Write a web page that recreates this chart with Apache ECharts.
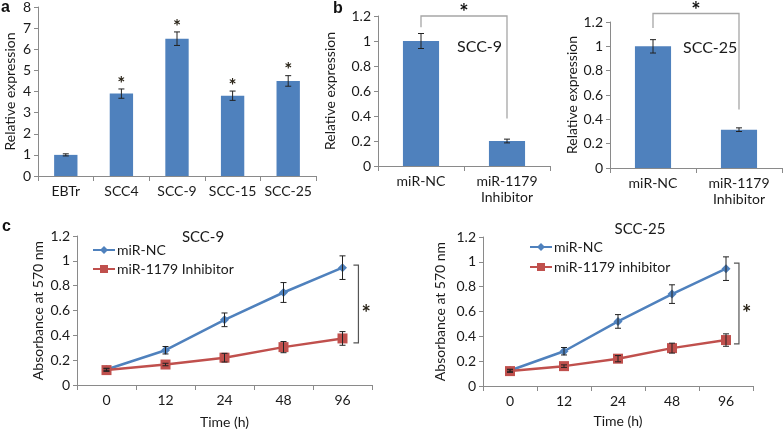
<!DOCTYPE html>
<html><head><meta charset="utf-8">
<script src="https://cdn.jsdelivr.net/npm/echarts@6/dist/echarts.min.js"></script>
<style>html,body{margin:0;padding:0;background:#fff}#c{width:784px;height:430px}</style>
</head><body><div id="c"></div>
<script>
// ---- Panel a ----
const catsA = ['EBTr', 'SCC4', 'SCC-9', 'SCC-15', 'SCC-25'];
const valsA = [1.0, 3.9, 6.5, 3.8, 4.5];
const errA = [0.05, 0.22, 0.32, 0.22, 0.25];
const sigA = ['', '*', '*', '*', '*'];
const ticksA = [0, 8, 1];
// ---- Panel b ----
const catsB = ['miR-NC', 'miR-1179\nInhibitor'];
const valsB1 = [1.0, 0.2];
const errB1 = [0.06, 0.015];
const valsB2 = [1.0, 0.315];
const errB2 = [0.055, 0.015];
const bracketB1 = [1.2, 1.11, 0.38];
const bracketB2 = [1.27, 1.15, 0.48];
const ticksB = [0, 1.2, 0.2];
// ---- Panel c ----
const catsC = ['0', '12', '24', '48', '96'];
const ncC1 = [0.125, 0.28, 0.525, 0.745, 0.945];
const ncErrC1 = [0.01, 0.03, 0.055, 0.08, 0.095];
const inhC1 = [0.12, 0.165, 0.22, 0.305, 0.375];
const inhErrC1 = [0.01, 0.01, 0.035, 0.045, 0.055];
const ncC2 = [0.125, 0.28, 0.52, 0.74, 0.945];
const ncErrC2 = [0.01, 0.03, 0.055, 0.075, 0.095];
const inhC2 = [0.12, 0.16, 0.22, 0.305, 0.37];
const inhErrC2 = [0.01, 0.01, 0.025, 0.04, 0.05];
const bracketC1 = [0.965, 0.34];
const bracketC2 = [0.99, 0.34];
const ticksC = [0, 1.2, 0.2];

const FONT = 'Lato';
const BLUE = '#4F81BD', RED = '#C0504D', AX = '#8a8a8a', TXT = '#1a1a1a';

const chart = echarts.init(document.getElementById('c'));

function errData(vals, errs) { return vals.map((v, i) => [i, v, errs[i]]); }

function makeErr(cap, sig) {
  return function (params, api) {
    const x = api.value(0), v = api.value(1), e = api.value(2);
    const hi = api.coord([x, v + e]), lo = api.coord([x, v - e]);
    const st = { stroke: '#222', lineWidth: 1 };
    const ch = [
      { type: 'line', shape: { x1: hi[0], y1: hi[1], x2: lo[0], y2: lo[1] }, style: st },
      { type: 'line', shape: { x1: hi[0] - cap, y1: hi[1], x2: hi[0] + cap, y2: hi[1] }, style: st },
      { type: 'line', shape: { x1: lo[0] - cap, y1: lo[1], x2: lo[0] + cap, y2: lo[1] }, style: st }
    ];
    if (sig && sig[params.dataIndex]) {
      ch.push({ type: 'text', style: { text: sig[params.dataIndex], x: hi[0], y: hi[1] + 4, align: 'center', verticalAlign: 'bottom', fill: '#2a2418', font: 'bold 19px ' + FONT } });
    }
    return { type: 'group', children: ch };
  };
}

function bracketB(br) {
  return function (params, api) {
    const l = api.coord([0, br[0]]), r = api.coord([1, br[0]]);
    const l2 = api.coord([0, br[1]]), r2 = api.coord([1, br[2]]);
    const st = { stroke: '#a6a6a6', lineWidth: 1.3 };
    return { type: 'group', children: [
      { type: 'polyline', shape: { points: [[l2[0], l2[1]], [l[0], l[1]], [r[0], r[1]], [r2[0], r2[1]]] }, style: Object.assign({ fill: null }, st) },
      { type: 'text', style: { text: '*', x: (l[0] + r[0]) / 2, y: l[1] + 8, align: 'center', verticalAlign: 'bottom', fill: '#111', font: 'bold 22px ' + FONT } }
    ] };
  };
}

function bracketC(br, frac) {
  return function (params, api) {
    const cw = api.size([1, 0])[0];
    const t = api.coord([4, br[0]]), b = api.coord([4, br[1]]);
    const x = t[0] + cw * frac;
    const st = { stroke: '#555', lineWidth: 1.2, fill: null };
    return { type: 'group', children: [
      { type: 'polyline', shape: { points: [[x - 5, t[1]], [x, t[1]], [x, b[1]], [x - 5, b[1]]] }, style: st },
      { type: 'text', style: { text: '*', x: x + 3, y: (t[1] + b[1]) / 2 + 10, align: 'left', verticalAlign: 'middle', fill: '#2a2418', font: 'bold 22px ' + FONT } }
    ] };
  };
}

function catAxis(idx, cats, extra) {
  return Object.assign({
    type: 'category', gridIndex: idx, data: cats,
    axisLine: { lineStyle: { color: AX } },
    axisTick: { show: true, length: 5, lineStyle: { color: AX } },
    axisLabel: { interval: 0, color: TXT, fontSize: 14, fontFamily: FONT, margin: 7, lineHeight: 16 }
  }, extra || {});
}
function valAxis(idx, t, name, gap, extra) {
  return Object.assign({
    type: 'value', gridIndex: idx, min: t[0], max: t[1], interval: t[2],
    axisLine: { show: true, lineStyle: { color: AX } },
    axisTick: { show: true, length: 4, lineStyle: { color: AX } },
    splitLine: { show: false },
    axisLabel: { color: TXT, fontSize: 14, fontFamily: FONT, margin: 7 },
    name: name, nameLocation: 'middle', nameRotate: 90, nameGap: gap,
    nameTextStyle: { color: TXT, fontSize: 14, fontFamily: FONT }
  }, extra || {});
}

const lineCommon = { lineStyle: { width: 2.5 }, z: 3 };
const letterStyle = { fontSize: 16, fontWeight: 'bold', color: '#111', fontFamily: 'Liberation Sans' };
const subStyle = { fontSize: 16, fontWeight: 'normal', color: TXT, fontFamily: FONT };
const timeName = (gap) => ({ name: 'Time (h)', nameLocation: 'middle', nameGap: gap, nameTextStyle: { color: TXT, fontSize: 14, fontFamily: FONT } });

const option = {
  animation: false,
  textStyle: { fontFamily: FONT },
  grid: [
    { left: 38, top: 7, width: 278, height: 169 },
    { left: 378, top: 16, width: 172, height: 150 },
    { left: 610, top: 22, width: 172, height: 146 },
    { left: 77, top: 236, width: 295, height: 153 },
    { left: 483, top: 237, width: 270, height: 149 }
  ],
  xAxis: [
    catAxis(0, catsA),
    catAxis(1, catsB),
    catAxis(2, catsB),
    catAxis(3, catsC, timeName(30)),
    catAxis(4, catsC, timeName(28))
  ],
  yAxis: [
    valAxis(0, ticksA, 'Relative expression', 21),
    valAxis(1, ticksB, 'Relative expression', 41),
    valAxis(2, ticksB, 'Relative expression', 31),
    valAxis(3, ticksC, 'Absorbance at 570 nm', 32),
    valAxis(4, ticksC, 'Absorbance at 570 nm', 36)
  ],
  title: [
    { text: 'a', left: 1, top: 0, padding: 0, textStyle: letterStyle },
    { text: 'b', left: 333, top: 1, padding: 0, textStyle: letterStyle },
    { text: 'c', left: 2, top: 219, padding: 0, textStyle: letterStyle },
    { text: 'SCC-9', left: 457, top: 39, padding: 0, textStyle: subStyle },
    { text: 'SCC-25', left: 683, top: 40, padding: 0, textStyle: subStyle },
    { text: 'SCC-9', left: 203, top: 230, padding: 0, textAlign: 'center', textStyle: Object.assign({}, subStyle, { fontSize: 15 }) },
    { text: 'SCC-25', left: 640, top: 222, padding: 0, textAlign: 'center', textStyle: Object.assign({}, subStyle, { fontSize: 15 }) }
  ],
  legend: [
    { data: ['miR-NC', 'miR-1179 Inhibitor'], orient: 'vertical', left: 92, top: 243, padding: 0, itemWidth: 22, itemHeight: 10, itemGap: 5, textStyle: { fontSize: 14, color: TXT, fontFamily: FONT, padding: [0, 0, 0, -3] } },
    { data: ['miR-NC', 'miR-1179 inhibitor'], orient: 'vertical', left: 529, top: 240, padding: 0, itemWidth: 22, itemHeight: 10, itemGap: 6, textStyle: { fontSize: 14, color: TXT, fontFamily: FONT, padding: [0, 0, 0, -3] } }
  ],
  series: [
    // panel a
    { type: 'bar', xAxisIndex: 0, yAxisIndex: 0, data: valsA, barWidth: '42%', itemStyle: { color: BLUE } },
    { type: 'custom', xAxisIndex: 0, yAxisIndex: 0, data: errData(valsA, errA), renderItem: makeErr(3, sigA), z: 5 },
    // panel b1
    { type: 'bar', xAxisIndex: 1, yAxisIndex: 1, data: valsB1, barWidth: '42%', itemStyle: { color: BLUE } },
    { type: 'custom', xAxisIndex: 1, yAxisIndex: 1, data: errData(valsB1, errB1), renderItem: makeErr(3), z: 5 },
    { type: 'custom', xAxisIndex: 1, yAxisIndex: 1, data: [[0, 0]], renderItem: bracketB(bracketB1), z: 5, silent: true },
    // panel b2
    { type: 'bar', xAxisIndex: 2, yAxisIndex: 2, data: valsB2, barWidth: '42%', itemStyle: { color: BLUE } },
    { type: 'custom', xAxisIndex: 2, yAxisIndex: 2, data: errData(valsB2, errB2), renderItem: makeErr(3), z: 5 },
    { type: 'custom', xAxisIndex: 2, yAxisIndex: 2, data: [[0, 0]], renderItem: bracketB(bracketB2), z: 5, silent: true },
    // panel c1
    Object.assign({ name: 'miR-NC', type: 'line', xAxisIndex: 3, yAxisIndex: 3, data: ncC1, symbol: 'diamond', symbolSize: 9, color: BLUE }, lineCommon),
    Object.assign({ name: 'miR-1179 Inhibitor', type: 'line', xAxisIndex: 3, yAxisIndex: 3, data: inhC1, symbol: 'rect', symbolSize: 10, color: RED }, lineCommon, { z: 4 }),
    { type: 'custom', xAxisIndex: 3, yAxisIndex: 3, data: errData(ncC1, ncErrC1), renderItem: makeErr(3), z: 6 },
    { type: 'custom', xAxisIndex: 3, yAxisIndex: 3, data: errData(inhC1, inhErrC1), renderItem: makeErr(3), z: 6 },
    { type: 'custom', xAxisIndex: 3, yAxisIndex: 3, data: [[0, 0]], renderItem: bracketC(bracketC1, 0.27), z: 5, silent: true },
    // panel c2
    Object.assign({ name: 'miR-NC', type: 'line', xAxisIndex: 4, yAxisIndex: 4, data: ncC2, symbol: 'diamond', symbolSize: 9, color: BLUE }, lineCommon),
    Object.assign({ name: 'miR-1179 inhibitor', type: 'line', xAxisIndex: 4, yAxisIndex: 4, data: inhC2, symbol: 'rect', symbolSize: 10, color: RED }, lineCommon, { z: 4 }),
    { type: 'custom', xAxisIndex: 4, yAxisIndex: 4, data: errData(ncC2, ncErrC2), renderItem: makeErr(3), z: 6 },
    { type: 'custom', xAxisIndex: 4, yAxisIndex: 4, data: errData(inhC2, inhErrC2), renderItem: makeErr(3), z: 6 },
    { type: 'custom', xAxisIndex: 4, yAxisIndex: 4, data: [[0, 0]], renderItem: bracketC(bracketC2, 0.24), z: 5, silent: true }
  ]
};
chart.setOption(option);
</script>
</body></html>
